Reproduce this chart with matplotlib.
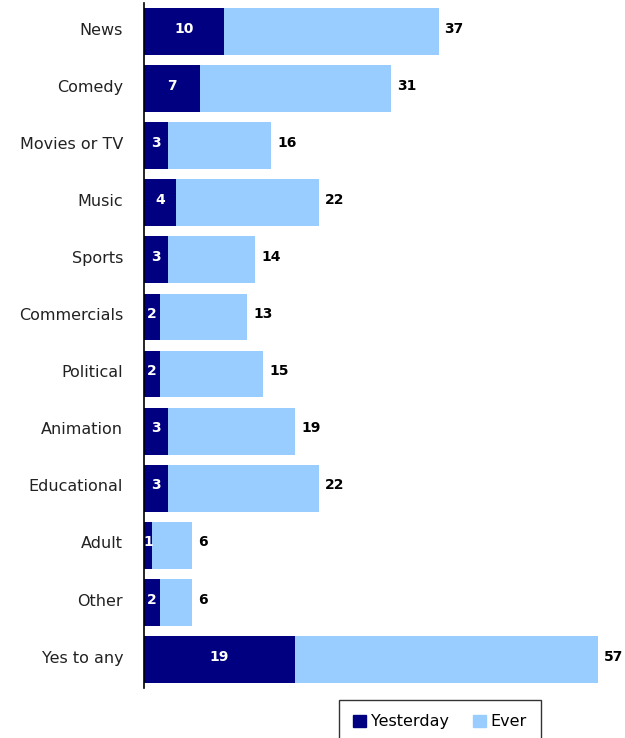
import matplotlib.pyplot as plt
from matplotlib.patches import Patch

categories = ["News", "Comedy", "Movies or TV", "Music", "Sports", "Commercials",
              "Political", "Animation", "Educational", "Adult", "Other", "Yes to any"]
yesterday = [10, 7, 3, 4, 3, 2, 2, 3, 3, 1, 2, 19]
ever = [37, 31, 16, 22, 14, 13, 15, 19, 22, 6, 6, 57]

dark = "#000080"
light = "#99CCFF"

fig = plt.figure(figsize=(6.25, 7.38), dpi=100)
ax = fig.add_axes([144 / 625, 1 - 688 / 738, 1 - 144 / 625, 685 / 738])

y = list(range(len(categories)))
ax.barh(y, ever, height=0.82, color=light, edgecolor="none")
ax.barh(y, yesterday, height=0.82, color=dark, edgecolor="none")

for i in y:
    ax.text(yesterday[i] / 2, i - 0.05, str(yesterday[i]), color="white", fontsize=10,
            fontweight="bold", ha="center", va="center")
    ax.text(ever[i] + 0.75, i - 0.05, str(ever[i]), color="black", fontsize=10,
            fontweight="bold", ha="left", va="center")

ax.set_ylim(len(categories) - 0.5, -0.5)
ax.set_xlim(0, 481 / 7.96)
ax.set_yticks([v - 0.05 for v in y])
ax.set_yticklabels(categories, fontsize=11.5, color="#222222")
ax.tick_params(axis="y", length=0, pad=15)
ax.set_xticks([])
for s in ["top", "right", "bottom"]:
    ax.spines[s].set_visible(False)
ax.spines["left"].set_linewidth(1.2)

handles = [Patch(color=dark, label="Yesterday"), Patch(color=light, label="Ever")]
leg = fig.legend(handles=handles, loc="upper center", bbox_to_anchor=(440 / 625, 1 - 700 / 738),
                 ncol=2, frameon=True, fancybox=False, fontsize=11.5, handlelength=0.8,
                 handleheight=0.8, handletextpad=0.3, columnspacing=1.5, borderpad=0.9,
                 borderaxespad=0)
leg.get_frame().set_edgecolor("black")
leg.get_frame().set_linewidth(1.0)

fig.savefig("out.png", dpi=100)
